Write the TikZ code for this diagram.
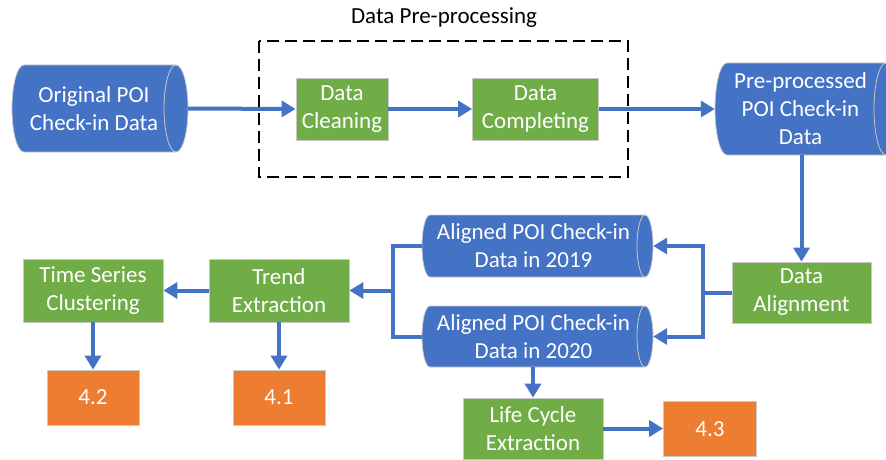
\documentclass[tikz,border=0pt]{standalone}
\usepackage{fontspec}
\setmainfont{Carlito}
\usetikzlibrary{arrows.meta}
\definecolor{pblue}{HTML}{4472C4}
\definecolor{pgreen}{HTML}{70AD47}
\definecolor{porange}{HTML}{ED7D31}
\definecolor{pedge}{HTML}{C8C8C8}
\newcommand\mydrum[7]{%
  \pgfmathsetmacro\drumry{(#5-#3)/2}%
  \pgfmathsetmacro\drumw{#4-#2}%
  \pgfmathsetmacro\drumh{#5-#3}%
  \path[fill=pblue,draw=pedge,line width=0.8pt] ({#2+#6},#3) -- ({#4-#6},#3)
     arc[start angle=90,end angle=-90,x radius=#6pt,y radius=\drumry pt]
     -- ({#2+#6},#5)
     arc[start angle=270,end angle=90,x radius=#6pt,y radius=\drumry pt] -- cycle;
  \draw[draw=pedge,line width=0.8pt] ({#4-#6},#3)
     arc[start angle=90,end angle=270,x radius=#6pt,y radius=\drumry pt];
  \node[inner sep=0pt,minimum width=\drumw pt,minimum height=\drumh pt] (#1) at ({(#2+#4)/2},{(#3+#5)/2}) {};
  \node[txt] (#1-t) at ({(#2+#4)/2-#6/2},{(#3+#5)/2}) {#7};
}
\tikzset{
  txt/.style={text=white,align=center,inner sep=0pt,font=\fontsize{23}{28}\selectfont},
  gbox/.style={fill=pgreen,draw=pedge,line width=0.8pt,text=white,align=center,inner sep=0pt,
     font=\fontsize{23}{28}\selectfont},
  obox/.style={fill=porange,draw=pedge,line width=0.8pt,text=white,align=center,inner sep=0pt,
     font=\fontsize{23}{28}\selectfont},
  conn/.style={draw=pblue,line width=4pt},
  arr/.style={conn,-{Triangle[length=14pt,width=16pt]}},
}
\begin{document}
\begin{tikzpicture}[x=1pt,y=-1pt]
\useasboundingbox (0,0) rectangle (886,460);
% dashed group
\draw[black,line width=2.3pt,dash pattern=on 12pt off 6pt] (259,41) rectangle (628,177);
\node[font=\fontsize{23}{28}\selectfont,inner sep=0pt] (grp) at (444,18) {Data Pre-processing};
% drums
\mydrum{orig}{12}{65}{188}{152}{12}{Original POI\\Check-in Data}
\mydrum{pre}{715}{63}{898}{155}{12}{Pre-processed\\POI Check-in\\Data}
\mydrum{a19}{422}{215}{653}{277}{8}{Aligned POI Check-in\\Data in 2019}
\mydrum{a20}{422}{306}{653}{367}{8}{Aligned POI Check-in\\Data in 2020}
% green boxes
\node[gbox,minimum width=92pt,minimum height=62pt] (clean) at (342,109) {Data\\Cleaning};
\node[gbox,minimum width=126pt,minimum height=62pt] (comp) at (535.5,109) {Data\\Completing};
\node[gbox,minimum width=139pt,minimum height=61pt] (align) at (801.5,292.5) {Data\\Alignment};
\node[gbox,minimum width=140pt,minimum height=63pt] (trend) at (279,290.5) {Trend\\Extraction};
\node[gbox,minimum width=140pt,minimum height=63pt] (ts) at (93,290.5) {Time Series\\Clustering};
\node[gbox,minimum width=140pt,minimum height=61pt] (life) at (533,428.5) {Life Cycle\\Extraction};
% orange boxes
\node[obox,minimum width=92pt,minimum height=55pt] (r42) at (93,397.5) {4.2};
\node[obox,minimum width=92pt,minimum height=55pt] (r41) at (279,397.5) {4.1};
\node[obox,minimum width=93pt,minimum height=55pt] (r43) at (710,429) {4.3};
% joints
\coordinate (rj) at (703,292.5);
\coordinate (lj) at (393,290.5);
% connectors
\draw[arr] (orig.east) -- (clean.west);
\draw[arr] (clean.east) -- (comp.west);
\draw[arr] (comp.east) -- (pre.west);
\draw[arr] (pre.south -| align.north) -- (align.north);
\draw[conn] (align.west) -- (rj);
\draw[arr] (rj) |- (a19.east);
\draw[arr] (rj) |- (a20.east);
\draw[conn] (a19.west) -| (lj) |- (a20.west);
\draw[arr] (lj) -- (trend.east);
\draw[arr] (trend.west) -- (ts.east);
\draw[arr] (ts.south) -- (r42.north);
\draw[arr] (trend.south) -- (r41.north);
\draw[arr] (a20.south -| life.north) -- (life.north);
\draw[arr] (life.east) -- (life.east -| r43.west);
\end{tikzpicture}
\end{document}
